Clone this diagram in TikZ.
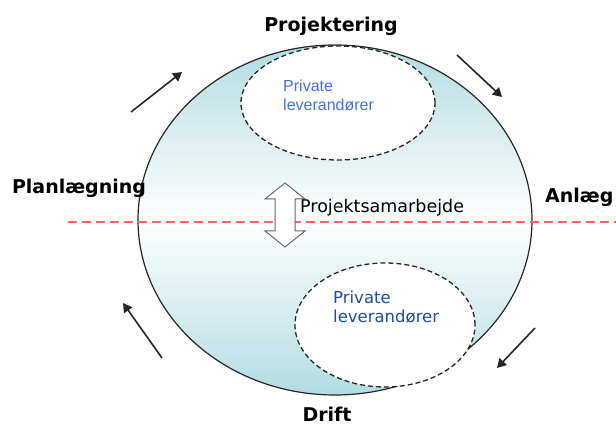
\documentclass[tikz,border=0pt]{standalone}
\usepackage{fontspec}
\setmainfont{DejaVu Sans}
\newfontfamily\arialfont{Liberation Sans}
\usetikzlibrary{shapes.geometric,arrows.meta}
\definecolor{teal1}{RGB}{178,220,224}
\definecolor{blue1}{RGB}{70,110,240}
\definecolor{blue2}{RGB}{30,80,150}
\definecolor{red1}{RGB}{255,100,100}
\tikzset{
  phase/.style={font=\bfseries\fontsize{19}{22}\selectfont, inner sep=0},
  cyclearrow/.style={line width=1.6pt, draw=black!85, -{Triangle[length=9pt,width=10pt]}},
  privbox/.style={ellipse, draw=black!85, dashed, dash pattern=on 5pt off 3pt, line width=1.3pt, fill=white, align=left, inner sep=0}
}
\begin{document}
\begin{tikzpicture}[x=1pt,y=-1pt]
\useasboundingbox (0,0) rectangle (616,427);
% main circle
\node[ellipse, draw=black!85, line width=1.2pt, minimum width=394pt, minimum height=350pt,
      top color=teal1, bottom color=teal1, middle color=white, inner sep=0] (main) at (335,220) {};
% dashed red line
\coordinate (l1) at (68,222);
\coordinate (l2) at (616,222);
\draw[red1, line width=2.6pt, dash pattern=on 9pt off 5pt] (l1) -- (l2);
% private ellipses
\node[privbox, minimum width=194pt, minimum height=114pt] (ptop) at (338,103) {};
\node[font=\arialfont\fontsize{16}{19}\selectfont, text=blue1, align=left, anchor=north west, inner sep=0] (ttop) at (283,80) {Private\\leverandører};
\node[privbox, minimum width=180pt, minimum height=124pt] (pbot) at (385,325) {};
\node[font=\fontsize{16.5}{19}\selectfont, text=blue2, align=left, anchor=north west, inner sep=0] (tbot) at (333,291) {Private\\leverandører};
% double arrow
\draw[draw=black!60, fill=white, line width=1pt] (285,183) -- (305,199) -- (295,199) -- (295,231) -- (305,231) -- (285,247) -- (265,231) -- (275,231) -- (275,199) -- (265,199) -- cycle;
\node[font=\fontsize{17.5}{20}\selectfont, anchor=west, inner sep=0] (samarb) at (300,208) {Projektsamarbejde};
% phase labels
\node[phase] (proj) at (331,26) {Projektering};
\node[phase] (plan) at (79,188) {Planlægning};
\node[phase, anchor=west] (anl) at (545,197) {Anlæg};
\node[phase] (drift) at (327,414) {Drift};
% cycle arrows
\coordinate (a1s) at (131,112); \coordinate (a1e) at (182,72);
\coordinate (a2s) at (457,55);  \coordinate (a2e) at (502,97);
\coordinate (a3s) at (535,328); \coordinate (a3e) at (497,368);
\coordinate (a4s) at (162,358); \coordinate (a4e) at (123,303);
\draw[cyclearrow] (a1s) -- (a1e);
\draw[cyclearrow] (a2s) -- (a2e);
\draw[cyclearrow] (a3s) -- (a3e);
\draw[cyclearrow] (a4s) -- (a4e);
\end{tikzpicture}
\end{document}
